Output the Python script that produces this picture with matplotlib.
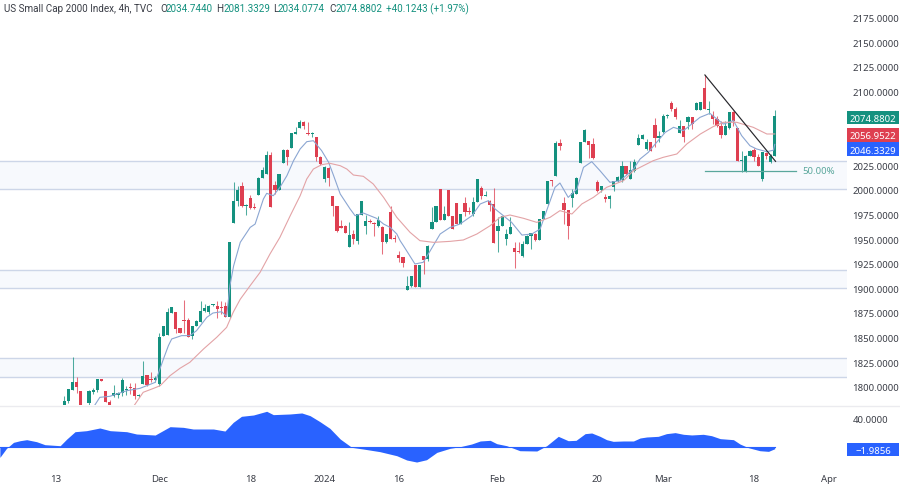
import matplotlib
matplotlib.use('Agg')
import matplotlib.pyplot as plt
import numpy as np
from matplotlib.patches import Rectangle

plt.rcParams['font.family'] = ['Noto Sans', 'DejaVu Sans']

opens = [
    1781.5, 1786, 1797, 1805, 1796, 1776, 1783.5, 1795, 1797, 1808,
    1795.7, 1785, 1791, 1792, 1794, 1796.7, 1799.4, 1798.8, 1790.6, 1803,
    1812, 1808, 1807, 1803, 1852, 1853, 1875, 1876, 1859.7, 1868,
    1867.5, 1852, 1861.8, 1866, 1877, 1876.3, 1882.8, 1882.4, 1880.8, 1881.8,
    1870.6, 1966.4, 1988.8, 2004.4, 1983.4, 1991.5, 1982.4, 1995.2, 2012.5, 2016.2,
    2035.6, 2005, 2000.3, 2027.4, 2041, 2042.3, 2057.2, 2063, 2068.8, 2057.9,
    2056.6, 2053.9, 2033.5, 2011.1, 2022, 1993.6, 1984, 1963, 1963.4, 1942,
    1954.9, 1948.2, 1974.9, 1963.7, 1968.5, 1965.8, 1963.7, 1962.4, 1946.8, 1977.3,
    1950.9, 1934.3, 1931.6, 1898, 1902.1, 1924.1, 1901, 1933.2, 1929.5, 1960.3,
    1967.1, 2001, 1969.8, 2000, 1973.9, 1986.8, 1965.4, 1986.4, 1979, 1975.6,
    1988.1, 2001.7, 1994.2, 1988.8, 1985.8, 1958, 1963, 1950.2, 1954.9, 1941,
    1937.3, 1933.2, 1945.1, 1953.6, 1955.3, 1949.5, 1970.5, 1985.8, 2010.2, 2013.9,
    2047.7, 1986.4, 1979.7, 1991.5, 1995.9, 2027.1, 2049.1, 2049.5, 2046.7, 2008.5,
    2000, 1992.9, 1990.8, 2002.7, 2008.8, 2010.5, 2024.7, 2011.2, 2019.6, 2045.7,
    2051.8, 2041.7, 2049.1, 2066.4, 2052.8, 2058.6, 2074.9, 2088.4, 2082.3, 2057.9,
    2065.4, 2068.8, 2073.8, 2081.6, 2081.6, 2103.3, 2081.3, 2076.2, 2072.1, 2065.4,
    2055.9, 2062.7, 2078.9, 2062.7, 2029.1, 2018.6, 2034.9, 2041, 2033.9, 2011.2,
    2037.6, 2028.1, 2034.744]
highs = [
    1791, 1798, 1830, 1809.6, 1796, 1779, 1797, 1798.4, 1808, 1808,
    1795.7, 1787, 1802, 1795, 1809, 1801, 1803.5, 1803.5, 1792.6, 1826,
    1812, 1815, 1810.6, 1855, 1862, 1880, 1881.4, 1876, 1859.7, 1888,
    1869.6, 1862, 1867.5, 1887.5, 1884, 1883, 1883.8, 1887.5, 1887.5, 1885.8,
    1947.5, 2008.5, 2003.7, 2007.8, 1985.8, 1995, 1986.8, 2012.9, 2023, 2039.3,
    2038.3, 2009.5, 2016.6, 2041.7, 2041.7, 2057.9, 2063.7, 2071.5, 2069.8, 2068.8,
    2058.6, 2054.2, 2034.2, 2024.7, 2023, 1993.6, 1984, 1969.8, 1964.4, 1967,
    1959.3, 1975.6, 1988.5, 1974.6, 1970.5, 1967.1, 1973.2, 1963, 1955.3, 1984,
    1954.2, 1938.3, 1931.6, 1912.9, 1912.9, 1924.1, 1924.1, 1933.2, 1944.1, 1982.4,
    1983.4, 2001, 1984, 2000, 1973.9, 1986.8, 1975.3, 1992.5, 1982.4, 1992.5,
    2011.2, 2004.4, 1999.3, 1990.2, 2002, 1972.2, 1973.9, 1960.3, 1972.2, 1946.8,
    1946.8, 1948.5, 1954.2, 1956.3, 1956.3, 1970.5, 1979, 2009.5, 2010.5, 2050.1,
    2051.8, 1992.5, 1980, 2001, 2013.5, 2049.1, 2062, 2050.1, 2052.5, 2010.5,
    2004.4, 1995.9, 1994.9, 2009.5, 2014.5, 2029.8, 2024.7, 2029.8, 2031.5, 2056.9,
    2056.9, 2051.8, 2049.1, 2072.8, 2060.3, 2077.2, 2077.2, 2090.8, 2084, 2071.5,
    2065.4, 2075.5, 2073.8, 2089.8, 2089, 2116.9, 2090.8, 2080.6, 2075.5, 2070.5,
    2070.5, 2078.9, 2080.6, 2062.7, 2040, 2035.6, 2041, 2042.3, 2036.6, 2038.3,
    2038.3, 2036.6, 2081.3329]
lows = [
    1781.5, 1783.5, 1797, 1794, 1772, 1770, 1780, 1792.6, 1795, 1806,
    1785, 1780, 1790, 1789, 1791, 1791.6, 1792.6, 1788, 1790, 1803,
    1801, 1804.5, 1804.5, 1800.5, 1852, 1853, 1875, 1855, 1855, 1855,
    1851, 1848.6, 1861.8, 1865.5, 1875.7, 1874, 1882.4, 1870, 1874, 1870.6,
    1870, 1966.4, 1984, 1982.4, 1975, 1980.7, 1980.7, 1995.2, 2012.5, 2016.2,
    1982.4, 1995.9, 2000.3, 2027.4, 2025.7, 2042.3, 2057.2, 2063, 2062, 2055.9,
    2053.5, 2029.8, 2025.4, 2007.8, 2003.7, 1973.9, 1957.6, 1961, 1956.3, 1942,
    1945.1, 1944.8, 1974.9, 1955.3, 1966.4, 1952.9, 1962.4, 1934.6, 1946.1, 1950.2,
    1947.5, 1926.5, 1921.4, 1898, 1901, 1901, 1901, 1914.3, 1928.2, 1960.3,
    1967.1, 1969.8, 1969.8, 1973.9, 1960.3, 1965.4, 1965.4, 1973.9, 1975.6, 1973.9,
    1988.1, 1990.8, 1994.2, 1979, 1946.1, 1936.6, 1963, 1944.1, 1954.9, 1920.7,
    1936, 1931.5, 1945.1, 1940, 1948.5, 1948.8, 1970.5, 1985.1, 2004.4, 2013.9,
    2041, 1965.4, 1950.2, 1982.4, 1995.9, 2027.1, 2049.1, 2032.2, 2031.5, 1998.3,
    1997.6, 1987.5, 1982, 1998.6, 2007.8, 2007.8, 2015.6, 2011.2, 2018.6, 2045.7,
    2051.8, 2041, 2039.3, 2043.4, 2048.4, 2057.9, 2072.8, 2080.6, 2072.2, 2057.9,
    2048.4, 2062, 2062, 2081.3, 2081, 2082.3, 2077.2, 2067, 2063.7, 2052.5,
    2055.9, 2062, 2065.4, 2029.8, 2017.9, 2017.9, 2034.2, 2029.8, 2024, 2009.5,
    2031.5, 2027.4, 2034.0774]
closes = [
    1786, 1798, 1804.5, 1800, 1775, 1772, 1796, 1797, 1807.6, 1806,
    1785, 1780, 1794, 1794, 1807, 1797.4, 1798.8, 1790.3, 1792, 1811,
    1802, 1807, 1808.6, 1851, 1862, 1875.7, 1881, 1858.7, 1855, 1866.5,
    1851, 1861.4, 1867, 1877, 1879.7, 1882.4, 1883, 1879, 1879.7, 1870.6,
    1947.5, 1989, 2000, 1983.4, 1984.7, 1981.7, 1982, 2012.2, 2020.3, 2035.6,
    1982.4, 1999.6, 2016.6, 2041, 2033.2, 2057.9, 2059.3, 2068.8, 2065.4, 2056.9,
    2057.9, 2033.2, 2026, 2023.4, 2012.2, 1983.7, 1958.3, 1961.7, 1956.3, 1954.2,
    1950.2, 1975.3, 1988.5, 1968.5, 1967.8, 1965.1, 1969.8, 1947.5, 1955.3, 1950.2,
    1950.2, 1930.9, 1926.1, 1902.4, 1912.9, 1901, 1923.8, 1928.8, 1943.4, 1967.1,
    1983.4, 1969.8, 1975.6, 1973.9, 1960.3, 1965.4, 1975.3, 1978, 1978, 1988.1,
    2011.2, 1993.6, 1994.9, 1985.1, 1946.1, 1963, 1973.9, 1955.3, 1962.7, 1937.3,
    1936.6, 1945.1, 1953.6, 1956.3, 1949.5, 1970.5, 1979, 2009.5, 2009.5, 2047.7,
    2044.4, 1979.7, 1963.7, 1996.6, 2012.2, 2049.1, 2061.3, 2046.1, 2032.2, 1999.3,
    2003.7, 1990.8, 1994.2, 2008.8, 2013.5, 2024, 2016.2, 2020.3, 2028.8, 2052.5,
    2055.9, 2049.1, 2039.3, 2052.8, 2054.5, 2074.9, 2076.2, 2082.3, 2073.8, 2065.4,
    2053.5, 2074.5, 2067, 2088.4, 2089, 2082.3, 2082.3, 2072.1, 2065.4, 2055.9,
    2064.7, 2078.9, 2070.5, 2029.8, 2029.8, 2034.9, 2039.3, 2033.9, 2024, 2038.3,
    2034.9, 2034.2, 2074.8802]

fast_x = [7.4, 8.6, 11, 15.1, 18.3, 22, 23, 24, 25.2, 26, 28.4, 30.4, 32, 34.5, 36, 38.1, 39.3,
          40.1, 41, 42.6, 45, 46.2, 48.2, 49, 50.6, 52.2, 53.9, 55.5, 57.1, 58.7, 60.3, 62.3,
          64, 65.2, 66.8, 69.2, 70.4, 72.4, 75.6, 77.3, 78.9, 80.5, 81.3, 82.1, 84.9, 86.9,
          88.6, 91, 93.4, 95.8, 98.7, 100.7, 102.7, 104.3, 106.3, 108.3, 110.8, 113.2, 115.2,
          117.2, 118.8, 120, 122, 124.1, 125.7, 127.7, 129.7, 132.1, 134.6, 137.8, 139.4,
          141.4, 143.4, 145.5, 147.5, 149.9, 151.9, 153.9, 156.3, 158, 159.6, 162, 164, 166,
          167.6, 170.1, 171.7, 172]
fast_y = [1781.5, 1789.3, 1790.3, 1796, 1798.4, 1804.5, 1816.4, 1828.2, 1841.8, 1848.6, 1852, 1852,
          1857, 1870.6, 1875, 1876.3, 1871.6, 1902.8, 1923, 1946.8, 1962, 1965.4, 1990.8, 1996.6,
          1994.2, 2002.7, 2014.6, 2029.8, 2041.7, 2049.1, 2050.1, 2040, 2028.1, 2014.6, 1996,
          1980.7, 1973.9, 1976.6, 1971.2, 1965.4, 1962, 1955.3, 1948.5, 1943.4, 1924.8, 1926.5,
          1938.3, 1955.3, 1962, 1965.4, 1973.9, 1985.8, 1989.2, 1980.7, 1973.9, 1967.1, 1954.2,
          1955.3, 1960.3, 1984, 2002.7, 2007.1, 1992.5, 2001, 2023, 2028.8, 2019.6, 2007.8,
          2009.5, 2021.3, 2031.5, 2038.3, 2048.4, 2058.6, 2063.7, 2060.3, 2067, 2073.8, 2077.9,
          2072.1, 2067, 2070.5, 2055.2, 2045, 2041.7, 2038.9, 2040.5, 2046.3329]

slow_x = [17, 19.1, 21.6, 23.2, 25.6, 28, 30.4, 33.7, 36.9, 39.3, 40.9, 42.6, 45, 47.4, 49.8, 52.2,
          54.7, 57.1, 58.7, 60.3, 62.3, 64.3, 66.8, 68.4, 70, 72.4, 74.8, 77.3, 80.5, 83.7, 86.1,
          89.4, 93.4, 96.6, 99.9, 103.1, 105.5, 107.9, 111.2, 114.4, 117.6, 120, 122.9, 125.3,
          128.1, 131.3, 135.4, 137.8, 140.2, 142.6, 145, 148.3, 150.7, 154, 157.1, 159.6, 162.8,
          166.8, 170.1, 172]
slow_y = [1781.5, 1794.4, 1798.4, 1801.1, 1811.3, 1818.8, 1824.9, 1838.4, 1850.3, 1860.4, 1875.8, 1889,
          1902.8, 1916.3, 1935, 1951.9, 1973.9, 1994.2, 2011.2, 2021.3, 2025.7, 2027.1, 2024.7,
          2021.3, 2015.2, 2013.9, 2006.1, 1992.5, 1972.2, 1957, 1948.5, 1946.8, 1947.8, 1949.2,
          1955.3, 1963.7, 1972.2, 1974.6, 1971.2, 1967.1, 1972.2, 1979, 1975.6, 1985.8, 1992.5,
          2002.7, 2009.5, 2019.6, 2024.7, 2029.8, 2033.2, 2036.6, 2046.7, 2056.9, 2064.4, 2068.8,
          2068.8, 2063.7, 2056.9, 2056.9522]

osc_x = [-15.6, -14, -12.3, -10.7, -9.1, -6.7, -4.7, -1, 0.6, 2.6, 5.4, 8.6, 11.1, 15.1, 17.5, 22,
         25.6, 28.8, 31.2, 36.1, 38.9, 40.9, 42.9, 45.8, 49, 50.6, 54.65, 57.5, 59.5, 61.9, 64.3,
         66.8, 69.6, 72.4, 76.4, 80.5, 82.9, 85.3, 87.7, 90.2, 93.4, 95.8, 98.6, 100.7, 103.1,
         104.7, 107.1, 110.3, 114.4, 116.8, 119.6, 122, 123.9, 126.1, 127.7, 129.7, 131.3, 132.9,
         135.4, 137.8, 139.4, 141, 143.8, 145.8, 147.9, 149.9, 151.9, 154.7, 156.7, 158.8, 162,
         163.6, 165.6, 168.4, 170.5, 172]
osc_y = [-13.9, -1.5, 6.8, 9.1, 10.5, 7.7, 3.6, 2.2, 11.4, 21.5, 22.9, 26.6, 22.9, 21.5, 18.3, 16.9,
         28.4, 27.5, 25.2, 25.2, 22.4, 34.4, 42.7, 44.5, 49.6, 45, 45.9, 47.3, 43.6, 35.3, 26.1,
         11.4, -0.1, -2.4, -6, -11.6, -17.5, -20.3, -17.1, -7, -1.4, 0.8, 4.5, 8.7, 9.6, 5, 2.2,
         -4.7, -5.1, 2.2, 15.1, 9.1, 9.6, 18.8, 19.7, 15.1, 10.5, 8.2, 8.7, 8.7, 12.8, 14.2, 15.1,
         18.8, 20.2, 17.9, 17, 17.9, 16, 11.9, 10.5, 4.5, -0.5, -4.7, -5.6, -1.9856]

zones = [(2000.7, 2029), (1900.4, 1918.4), (1809.7, 1828.8)]
price_ticks = [1800, 1825, 1850, 1875, 1900, 1925, 1950, 1975, 2000, 2025, 2100, 2125, 2150, 2175]
date_ticks = [-2.1, 23, 45, 63.1, 81, 104.9, 128.9, 144.9, 167, 185.1]
date_labels = ['13', 'Dec', '18', '2024', '16', 'Feb', '20', 'Mar', '18', 'Apr']
trend_x = [155.1, 172.2]
trend_y = [2116.9, 2029.1]
fib_x = [155.1, 177.1]
fib_level = 2019.6

GREEN = '#14917f'
RED = '#de3f50'
BLUE = '#2962ff'
TEXT = '#3a3d46'
FS = 6.9
W, H = 900, 485


def box(left, top, right, bottom):
    return [left / W, 1 - bottom / H, (right - left) / W, (bottom - top) / H]


fig = plt.figure(figsize=(9, 4.85), dpi=100, facecolor='white')
ax = fig.add_axes(box(0, 0, 847, 406))
osc = fig.add_axes(box(0, 407, 847, 470))

# price pane
ax.set_xlim(-15.57, 189.5)
ax.set_ylim(1781.5, 2194.1)
for low, high in zones:
    ax.axhspan(low, high, facecolor='#f7f9fd', edgecolor='none', zorder=0)
    ax.axhline(low, color='#cdd6e8', lw=1, zorder=1)
    ax.axhline(high, color='#cdd6e8', lw=1, zorder=1)

opens = np.array(opens)
closes = np.array(closes)
x = np.arange(len(opens))
colors = [GREEN if c >= o else RED for o, c in zip(opens, closes)]
ax.vlines(x, lows, highs, colors=colors, lw=0.75, alpha=0.75, zorder=2)
ax.bar(x, np.maximum(np.abs(closes - opens), 0.9), bottom=np.minimum(opens, closes),
       width=0.78, color=colors, linewidth=0, zorder=3)

ax.plot(fast_x, fast_y, color='#8ba6d2', lw=0.8, zorder=4)
ax.plot(slow_x, slow_y, color='#e3a3a6', lw=0.8, zorder=4)
ax.plot(trend_x, trend_y, color='#26262b', lw=0.85, zorder=5)
ax.plot(fib_x, [fib_level, fib_level], color='#5aa79c', lw=0.9, zorder=5)
ax.text(178.6, fib_level, '50.00%', color='#5aa79c', fontsize=FS, va='center', ha='left')

ax.set_yticks(price_ticks)
ax.set_yticklabels(['%.4f' % p for p in price_ticks])
ax.yaxis.tick_right()
ax.tick_params(axis='y', length=0, pad=4, labelsize=FS, labelcolor=TEXT)
ax.set_xticks([])
for s in ax.spines.values():
    s.set_visible(False)

# oscillator pane
osc.set_xlim(-15.57, 189.5)
osc.set_ylim(-29.9, 56.9)
osc.fill_between(osc_x, osc_y, 0, color=BLUE, lw=0)
osc.plot([osc_x[0], osc_x[-1]], [0, 0], color=BLUE, lw=0.8)
osc.yaxis.tick_right()
osc.set_yticks([40])
osc.set_yticklabels(['40.0000'])
osc.tick_params(axis='y', length=0, pad=4, labelsize=FS, labelcolor=TEXT)
osc.set_xticks(date_ticks)
osc.set_xticklabels(date_labels)
osc.tick_params(axis='x', length=0, pad=3.8, labelsize=FS, labelcolor=TEXT)
for lab in osc.get_xticklabels():
    if lab.get_text() == '2024':
        lab.set_fontweight('bold')
for s in osc.spines.values():
    s.set_visible(False)

fig.add_artist(plt.Line2D([0, 1], [1 - 406.5 / H, 1 - 406.5 / H], color='#ebebef', lw=1))

# last value labels on the right scale
value_boxes = [('2074.8802', GREEN, 111.5, 125), ('2056.9522', RED, 129.3, 142.5),
               ('2046.3329', BLUE, 143.3, 156.7), ('\u22121.9856', BLUE, 444, 457)]
for label, color, top, bottom in value_boxes:
    fig.add_artist(Rectangle((847 / W, 1 - bottom / H), 52 / W, (bottom - top) / H,
                             transform=fig.transFigure, facecolor=color, edgecolor='none'))
    fig.text(873 / W, 1 - (top + bottom) / 2 / H, label, color='white', fontsize=FS,
             ha='center', va='center_baseline')

# header line
header = [(4, 'US Small Cap 2000 Index, 4h, TVC', TEXT), (160, 'O', TEXT), (166, '2034.7440', GREEN),
          (216, 'H', TEXT), (223, '2081.3329', GREEN), (273, 'L', TEXT), (278, '2034.0774', GREEN),
          (329, 'C', TEXT), (335, '2074.8802', GREEN), (386, '+40.1243 (+1.97%)', GREEN)]
for px, label, color in header:
    fig.text(px / W, 1 - 8 / H, label, color=color, fontsize=7.1, family='Roboto', ha='left', va='center_baseline')

fig.savefig('out.png', dpi=100)
